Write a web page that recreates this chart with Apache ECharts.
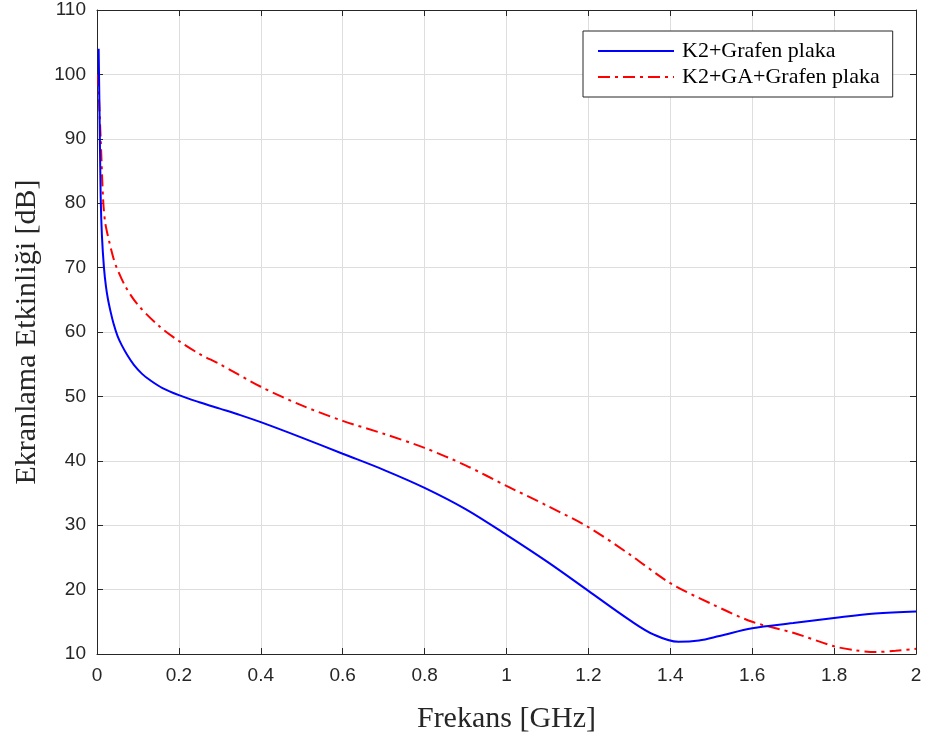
<!DOCTYPE html>
<html>
<head>
<meta charset="utf-8">
<script src="https://cdn.jsdelivr.net/npm/echarts@6/dist/echarts.min.js"></script>
<style>
  html, body { margin: 0; padding: 0; background: #ffffff; }
  #chart { width: 927px; height: 740px; }
</style>
</head>
<body>
<div id="chart"></div>
<script>
// Shielding effectiveness vs. frequency for two graphene plate samples
const blueName = 'K2+Grafen plaka';
const redName = 'K2+GA+Grafen plaka';

const blueFreq = [0.004, 0.006, 0.009, 0.012, 0.017, 0.022, 0.027, 0.033, 0.04, 0.05, 0.06, 0.075, 0.09, 0.11, 0.13, 0.16, 0.2, 0.25, 0.3, 0.35, 0.4, 0.5, 0.6, 0.7, 0.8, 0.9, 1.0, 1.1, 1.2, 1.3, 1.36, 1.42, 1.47, 1.52, 1.6, 1.7, 1.8, 1.9, 2.0];
const blueSE   = [104, 95, 81, 75, 70, 67, 65, 63.2, 61.4, 59.4, 58, 56.3, 54.9, 53.5, 52.5, 51.3, 50.2, 49.1, 48.1, 47.1, 46.0, 43.6, 41.1, 38.6, 35.8, 32.5, 28.5, 24.3, 19.8, 15.3, 13.0, 11.9, 12.1, 12.8, 14.0, 14.8, 15.6, 16.3, 16.6];

const redFreq = [0.003, 0.005, 0.009, 0.015, 0.02, 0.03, 0.04, 0.048, 0.07, 0.1, 0.15, 0.2, 0.25, 0.3, 0.4, 0.5, 0.6, 0.7, 0.8, 0.9, 1.0, 1.1, 1.2, 1.3, 1.4, 1.5, 1.6, 1.7, 1.8, 1.85, 1.9, 1.95, 2.0];
const redSE   = [100, 96, 90, 80.5, 77, 74, 71.5, 70, 67, 64.2, 61, 58.6, 56.6, 55, 51.5, 48.6, 46.2, 44.2, 42, 39.3, 36.1, 33, 29.7, 25.5, 21.0, 17.8, 15.0, 13.3, 11.2, 10.6, 10.3, 10.5, 10.8];

const xTicks = { min: 0, max: 2, interval: 0.2 };
const yTicks = { min: 10, max: 110, interval: 10 };

const toPairs = (xs, ys) => xs.map((x, i) => [x, ys[i]]);

const axisColor = '#262626';
const gridColor = '#dedede';
const tickFont = { fontFamily: 'Liberation Sans, Arial, sans-serif', fontSize: 19, color: axisColor };
const titleFont = { fontFamily: 'Liberation Serif, Times New Roman, serif', fontSize: 30, color: axisColor };

const chart = echarts.init(document.getElementById('chart'), null, { renderer: 'canvas' });

chart.setOption({
  backgroundColor: '#ffffff',
  animation: false,
  grid: { left: 97, right: 11, top: 10, bottom: 86, containLabel: false },
  legend: {
    orient: 'vertical',
    left: 583,
    top: 31,
    padding: [9, 13, 9, 14],
    itemWidth: 76,
    itemHeight: 14,
    itemGap: 4,
    backgroundColor: '#ffffff',
    borderColor: axisColor,
    borderWidth: 1,
    itemStyle: { opacity: 0 },
    textStyle: { fontFamily: 'Liberation Serif, Times New Roman, serif', fontSize: 22, color: '#000000', padding: [0, 0, 0, 3] },
    data: [blueName, redName]
  },
  xAxis: [
    {
      type: 'value', min: xTicks.min, max: xTicks.max, interval: xTicks.interval,
      name: 'Frekans [GHz]', nameLocation: 'middle', nameGap: 50, nameTextStyle: titleFont,
      axisLine: { show: true, onZero: false, lineStyle: { color: axisColor, width: 1 } },
      axisTick: { show: true, inside: true, length: 6, lineStyle: { color: axisColor } },
      axisLabel: Object.assign({ margin: 12 }, tickFont),
      splitLine: { show: true, lineStyle: { color: gridColor, width: 1 } }
    },
    {
      type: 'value', position: 'top', min: xTicks.min, max: xTicks.max, interval: xTicks.interval,
      axisLine: { show: true, onZero: false, lineStyle: { color: axisColor, width: 1 } },
      axisTick: { show: true, inside: true, length: 6, lineStyle: { color: axisColor } },
      axisLabel: { show: false }, splitLine: { show: false }
    }
  ],
  yAxis: [
    {
      type: 'value', min: yTicks.min, max: yTicks.max, interval: yTicks.interval,
      name: 'Ekranlama Etkinliği [dB]', nameLocation: 'middle', nameGap: 55, nameRotate: 90, nameTextStyle: titleFont,
      axisLine: { show: true, onZero: false, lineStyle: { color: axisColor, width: 1 } },
      axisTick: { show: true, inside: true, length: 6, lineStyle: { color: axisColor } },
      axisLabel: Object.assign({ margin: 11 }, tickFont),
      splitLine: { show: true, lineStyle: { color: gridColor, width: 1 } }
    },
    {
      type: 'value', position: 'right', min: yTicks.min, max: yTicks.max, interval: yTicks.interval,
      axisLine: { show: true, onZero: false, lineStyle: { color: axisColor, width: 1 } },
      axisTick: { show: true, inside: true, length: 6, lineStyle: { color: axisColor } },
      axisLabel: { show: false }, splitLine: { show: false }
    }
  ],
  series: [
    {
      name: blueName, type: 'line', xAxisIndex: 0, yAxisIndex: 0,
      data: toPairs(blueFreq, blueSE),
      showSymbol: false, symbol: 'none', smooth: 0.35,
      lineStyle: { color: '#0000ff', width: 2, type: 'solid' },
      itemStyle: { color: '#0000ff' }, z: 3
    },
    {
      name: redName, type: 'line', xAxisIndex: 0, yAxisIndex: 0,
      data: toPairs(redFreq, redSE),
      showSymbol: false, symbol: 'none', smooth: 0.3,
      lineStyle: { color: '#ff0000', width: 2, type: [12, 5, 3, 5] },
      itemStyle: { color: '#ff0000' }, z: 2
    }
  ]
});
</script>
</body>
</html>
